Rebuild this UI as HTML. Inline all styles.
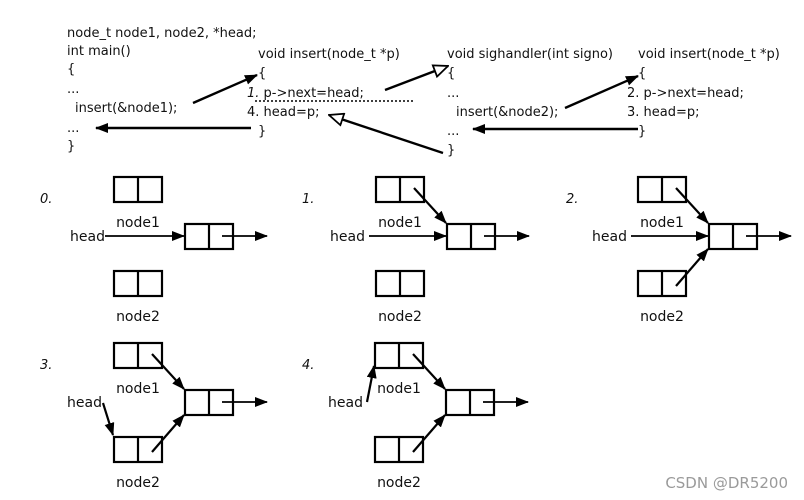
<!DOCTYPE html>
<html><head><style>
body{margin:0;background:#fff}
svg{display:block}
text{font-family:"DejaVu Sans","Liberation Sans",sans-serif;fill:#111}
</style></head><body>
<svg width="804" height="500" viewBox="0 0 804 500">
<defs>
<marker id="f" markerWidth="13" markerHeight="10" refX="12" refY="5" orient="auto" markerUnits="userSpaceOnUse"><path d="M0,0 L13,5 L0,10 z" fill="#000"/></marker>
<marker id="o" markerWidth="16" markerHeight="14" refX="15" refY="7" orient="auto" markerUnits="userSpaceOnUse"><path d="M1,1 L15,7 L1,13 z" fill="#fff" stroke="#000" stroke-width="1.8"/></marker>
<g id="b"><rect x="0" y="0" width="48" height="25" fill="none" stroke="#000" stroke-width="2.2"/><line x1="24" y1="0" x2="24" y2="25" stroke="#000" stroke-width="2.2"/></g>
<g id="base">
<use href="#b" x="0" y="0"/><use href="#b" x="71" y="47"/><use href="#b" x="0" y="94"/>
<text x="24" y="50" font-size="14" text-anchor="middle">node1</text>
<text x="24" y="144" font-size="14" text-anchor="middle">node2</text>
<line x1="108" y1="59" x2="153" y2="59" stroke="#000" stroke-width="1.8" marker-end="url(#f)"/>
</g>
</defs>
<g font-size="13">
<text x="67" y="37">node_t node1, node2, *head;</text>
<text x="67" y="55">int main()</text>
<text x="67" y="73">{</text>
<text x="67" y="93">...</text>
<text x="75" y="112">insert(&amp;node1);</text>
<text x="67" y="132">...</text>
<text x="67" y="150">}</text>
<text x="258" y="58">void insert(node_t *p)</text>
<text x="258" y="77">{</text>
<text x="247" y="97"><tspan font-style="italic">1.</tspan>  p-&gt;next=head;</text>
<text x="247" y="116">4.  head=p;</text>
<text x="258" y="135">}</text>
<text x="447" y="58">void sighandler(int signo)</text>
<text x="447" y="77">{</text>
<text x="447" y="97">...</text>
<text x="456" y="116">insert(&amp;node2);</text>
<text x="447" y="135">...</text>
<text x="447" y="154">}</text>
<text x="638" y="58">void insert(node_t *p)</text>
<text x="638" y="77">{</text>
<text x="627" y="97">2.  p-&gt;next=head;</text>
<text x="627" y="116">3.  head=p;</text>
<text x="638" y="135">}</text>
</g>
<line x1="255" y1="101" x2="413" y2="101" stroke="#000" stroke-width="1.5" stroke-dasharray="2,2"/>
<g stroke="#000" stroke-width="2.4" fill="none">
<line x1="193" y1="103" x2="257" y2="75" marker-end="url(#f)"/>
<line x1="251" y1="128" x2="96" y2="128" marker-end="url(#f)"/>
<line x1="385" y1="90" x2="448" y2="66" marker-end="url(#o)"/>
<line x1="443" y1="153" x2="329" y2="115" marker-end="url(#o)"/>
<line x1="565" y1="108" x2="638" y2="76" marker-end="url(#f)"/>
<line x1="638" y1="129" x2="473" y2="129" marker-end="url(#f)"/>
</g>
<g font-size="13" font-style="italic">
<text x="40" y="203">0.</text><text x="302" y="203">1.</text><text x="566" y="203">2.</text>
<text x="40" y="369">3.</text><text x="302" y="369">4.</text>
</g>
<g transform="translate(114,177)">
<use href="#base"/>
<text x="-9" y="64" font-size="14" text-anchor="end">head</text>
<line x1="-9" y1="59" x2="70" y2="59" stroke="#000" stroke-width="1.8" marker-end="url(#f)"/>
</g>
<g transform="translate(376,177)">
<use href="#base"/>
<text x="-11" y="64" font-size="14" text-anchor="end">head</text>
<line x1="-7" y1="59" x2="70" y2="59" stroke="#000" stroke-width="1.8" marker-end="url(#f)"/>
<line x1="38" y1="11" x2="70" y2="46" stroke="#000" stroke-width="2.2" marker-end="url(#f)"/>
</g>
<g transform="translate(638,177)">
<use href="#base"/>
<text x="-11" y="64" font-size="14" text-anchor="end">head</text>
<line x1="-7" y1="59" x2="70" y2="59" stroke="#000" stroke-width="1.8" marker-end="url(#f)"/>
<line x1="38" y1="11" x2="70" y2="46" stroke="#000" stroke-width="2.2" marker-end="url(#f)"/>
<line x1="38" y1="109" x2="70" y2="72" stroke="#000" stroke-width="2.2" marker-end="url(#f)"/>
</g>
<g transform="translate(114,343)">
<use href="#base"/>
<text x="-12" y="64" font-size="14" text-anchor="end">head</text>
<line x1="-11" y1="60" x2="-1" y2="92" stroke="#000" stroke-width="2.2" marker-end="url(#f)"/>
<line x1="38" y1="11" x2="70" y2="46" stroke="#000" stroke-width="2.2" marker-end="url(#f)"/>
<line x1="38" y1="109" x2="70" y2="72" stroke="#000" stroke-width="2.2" marker-end="url(#f)"/>
</g>
<g transform="translate(375,343)">
<use href="#base"/>
<text x="-12" y="64" font-size="14" text-anchor="end">head</text>
<line x1="-8" y1="59" x2="-1" y2="23" stroke="#000" stroke-width="2.2" marker-end="url(#f)"/>
<line x1="38" y1="11" x2="70" y2="46" stroke="#000" stroke-width="2.2" marker-end="url(#f)"/>
<line x1="38" y1="109" x2="70" y2="72" stroke="#000" stroke-width="2.2" marker-end="url(#f)"/>
</g>
<text x="788" y="488" font-size="15" text-anchor="end" style="fill:#9a9a9a">CSDN @DR5200</text>
</svg>
</body></html>
